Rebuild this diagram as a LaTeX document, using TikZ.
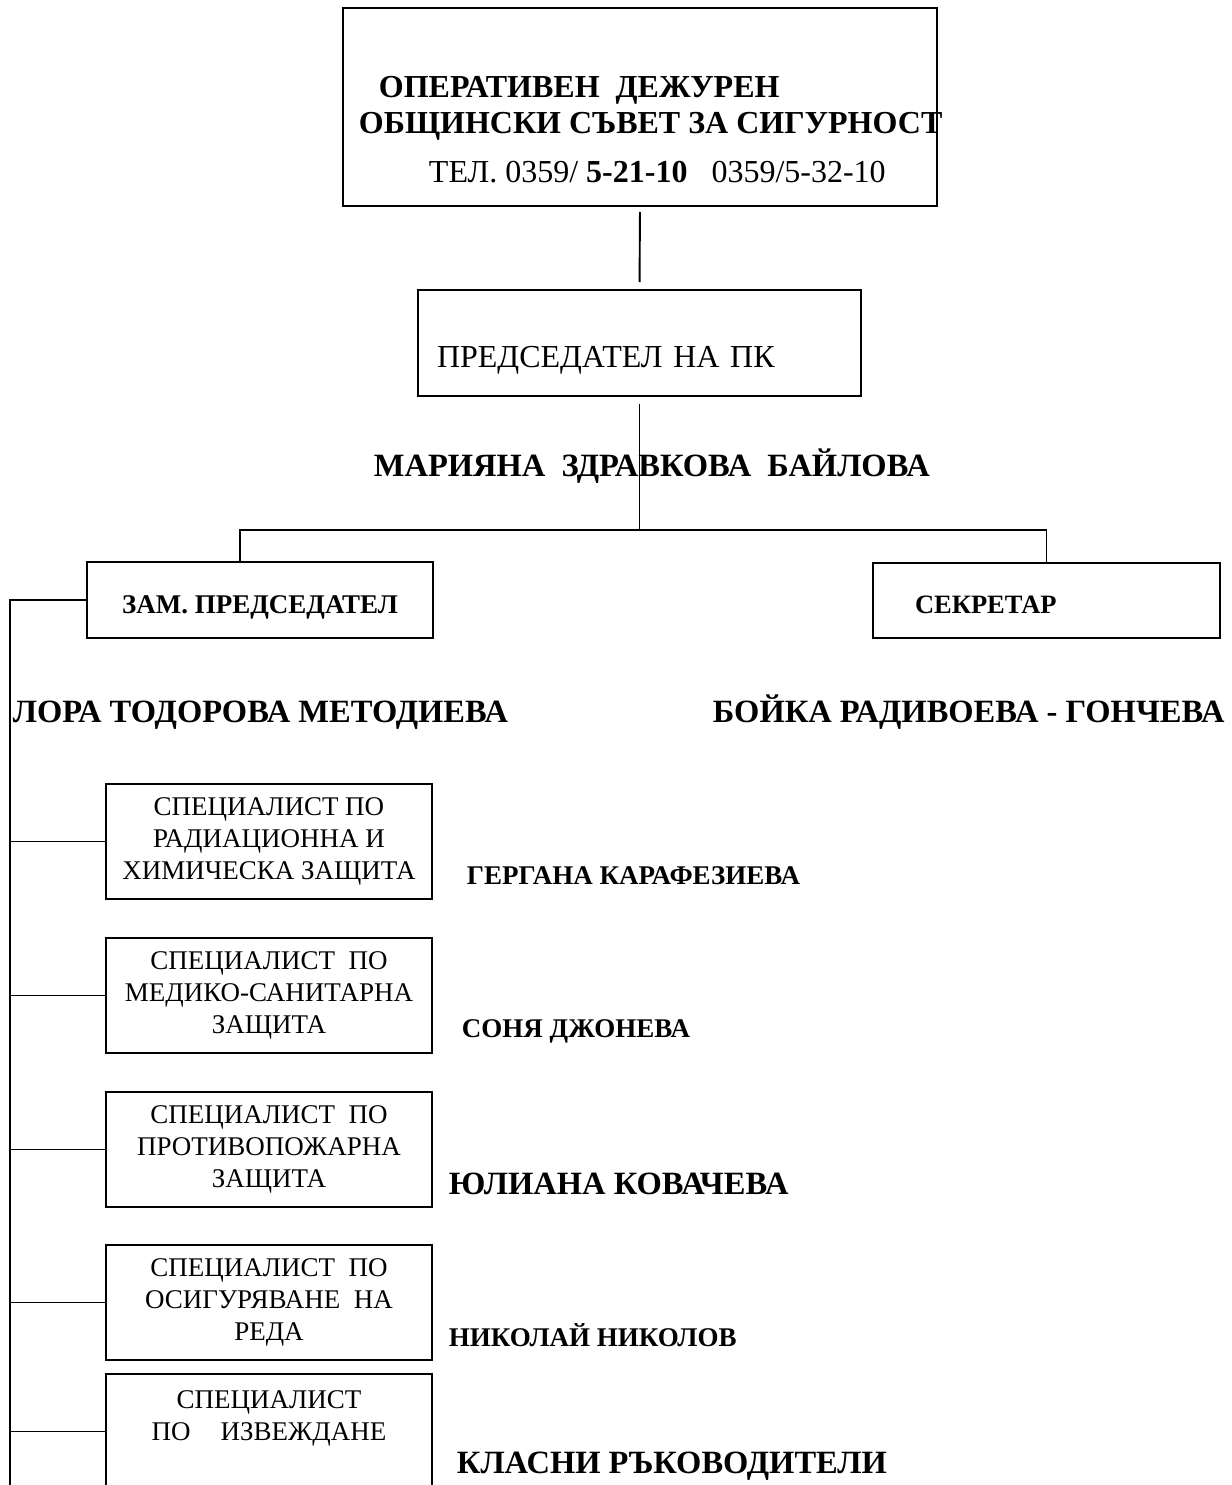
\documentclass[tikz,border=0pt]{standalone}
\usepackage{fontspec}
\setmainfont{Liberation Serif}
\usepackage{tikz}
\usetikzlibrary{calc,positioning}
\tikzset{
	box/.style={% Rectangles of the chart, sizes given per node
		draw, rectangle,
		inner sep=0pt,
		outer sep=0pt,
		align=center
	},
	spec/.style={
		box,
		minimum width=326pt,
		minimum height=115pt,
		font=\fontsize{27}{32}\selectfont
	},
	bigname/.style={
		anchor=base west,
		inner sep=0pt,
		font=\fontsize{32.5}{36}\selectfont\bfseries
	},
	smallname/.style={
		anchor=base west,
		inner sep=0pt,
		font=\fontsize{27}{30}\selectfont\bfseries
	}
}

\begin{document}
\begin{tikzpicture}[x=1pt, y=-1pt, line width=1.9pt]
                        \useasboundingbox (0,0) rectangle (1231,1485);
                        \node [box, minimum width=594pt, minimum height=198pt] (sovet) at (640,107) {};
                        \node [bigname, font=\fontsize{32}{36}\selectfont\bfseries] (sovet1) at (378,98) {ОПЕРАТИВЕН\ \ ДЕЖУРЕН};
                        \node [bigname, font=\fontsize{32}{36}\selectfont\bfseries] (sovet2) at (358,134) {ОБЩИНСКИ СЪВЕТ ЗА СИГУРНОСТ};
                        \node [bigname, font=\fontsize{32}{36}\selectfont] (tel) at (428,182) {ТЕЛ. 0359/ \textbf{5-21-10}\ \ \ 0359/5-32-10};
                        \node [box, minimum width=443pt, minimum height=106pt, text width=405pt, align=left,
                               text height=48pt, text depth=0pt, font=\fontsize{32}{36}\selectfont] (pk) at (639.5,343) {ПРЕДСЕДАТЕЛ НА ПК};
                        \node [bigname] (bajlova) at (373,476) {МАРИЯНА\ \ ЗДРАВКОВА\ \ БАЙЛОВА};
                        \coordinate (fork) at ($(pk.south)+(0,134)$);
                        \node [box, minimum width=346pt, minimum height=76pt, text height=26pt, text depth=0pt,
                               font=\fontsize{27}{30}\selectfont\bfseries] (zam) at (260,600) {ЗАМ. ПРЕДСЕДАТЕЛ};
                        \node [box, minimum width=347pt, minimum height=75pt, text width=263pt, align=left,
                               text height=25pt, text depth=0pt, font=\fontsize{26.5}{30}\selectfont\bfseries] (sekr) at (1046.5,600.5) {СЕКРЕТАР};
                        \node [bigname] (metodieva) at (12,722) {ЛОРА ТОДОРОВА МЕТОДИЕВА};
                        \node [bigname] (goncheva) at (712,722) {БОЙКА РАДИВОЕВА - ГОНЧЕВА};
                        \node [spec] (spec1) at (269,841.5) {СПЕЦИАЛИСТ ПО\\РАДИАЦИОННА И\\ХИМИЧЕСКА ЗАЩИТА};
                        \node [spec] (spec2) at (269,995.5) {СПЕЦИАЛИСТ\ \ ПО\\МЕДИКО-САНИТАРНА\\ЗАЩИТА};
                        \node [spec] (spec3) at (269,1149.5) {СПЕЦИАЛИСТ\ \ ПО\\ПРОТИВОПОЖАРНА\\ЗАЩИТА};
                        \node [spec] (spec4) at (269,1302.5) {СПЕЦИАЛИСТ\ \ ПО\\ОСИГУРЯВАНЕ\ \ НА\\РЕДА};
                        \node [spec] (spec5) at (269,1431.5) {СПЕЦИАЛИСТ\\ПО\hspace{30pt}ИЗВЕЖДАНЕ\\~};
                        \node [smallname] (karafezieva) at (466,884) {ГЕРГАНА КАРАФЕЗИЕВА};
                        \node [smallname] (dzhoneva) at (461,1037) {СОНЯ ДЖОНЕВА};
                        \node [bigname] (kovacheva) at (448,1194) {ЮЛИАНА КОВАЧЕВА};
                        \node [smallname] (nikolov) at (448,1346) {НИКОЛАЙ НИКОЛОВ};
                        \node [bigname] (klasni) at (456,1473) {КЛАСНИ РЪКОВОДИТЕЛИ};
                        \coordinate (spinebot) at (10,1490);
                        \draw [shorten <=6pt, shorten >=8pt] (sovet.south) -- (pk.north);
                        \draw [shorten <=8pt] (pk.south) -- (fork);
                        \draw ([xshift=-20pt]zam.north) |- (fork) -| (sekr.north);
                        \draw (zam.west) -- (zam.west -| spinebot) -- (spinebot);
                        \foreach \s in {spec1,spec2,spec3,spec4,spec5}
                                \draw (\s.west) -- (\s.west -| spinebot);
                \end{tikzpicture}
\end{document}
